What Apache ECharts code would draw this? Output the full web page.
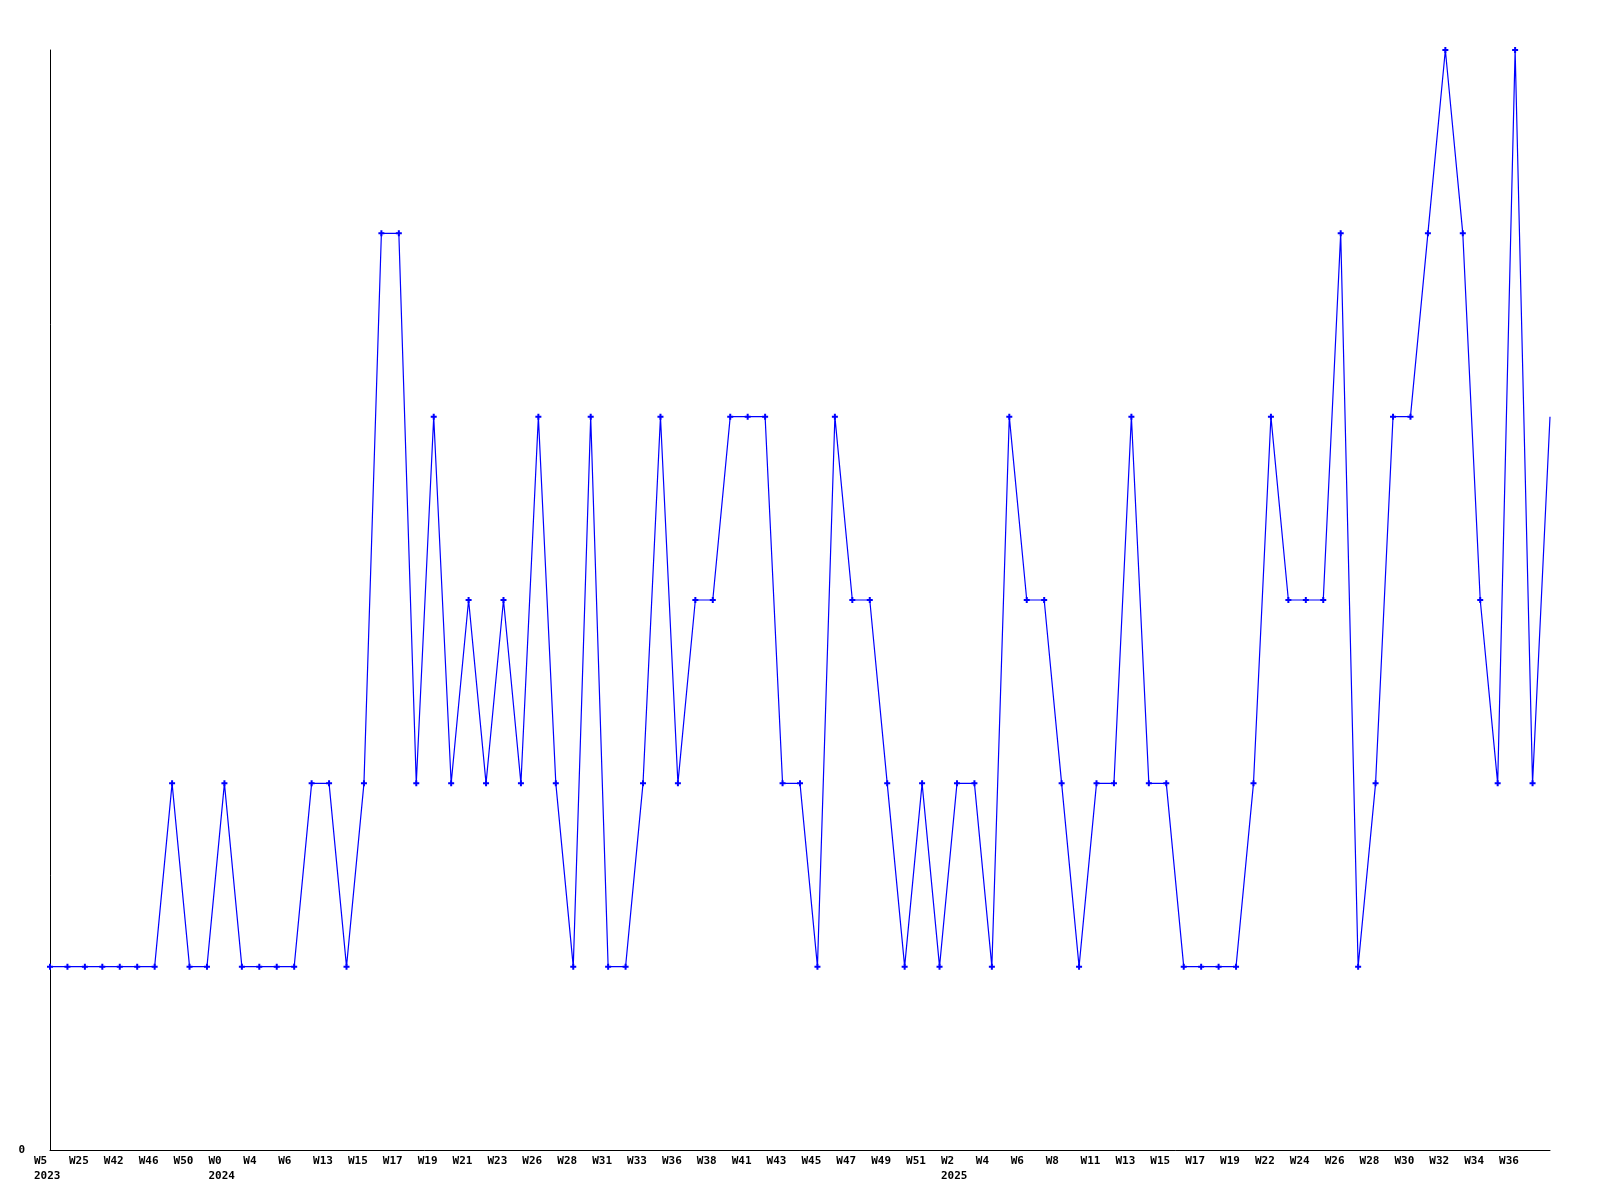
<!DOCTYPE html>
<html>
<head>
<meta charset="utf-8">
<script src="https://cdn.jsdelivr.net/npm/echarts@6/dist/echarts.min.js"></script>
<style>
  html, body { margin: 0; padding: 0; background: #fff; }
  #chart { width: 1600px; height: 1200px; }
</style>
</head>
<body>
<div id="chart"></div>
<script>
// labels sit under every second point
const weekLabels = [
  "W5", "W25", "W42", "W46", "W50", "W0", "W4", "W6", "W13", "W15",
  "W17", "W19", "W21", "W23", "W26", "W28", "W31", "W33", "W36", "W38",
  "W41", "W43", "W45", "W47", "W49", "W51", "W2", "W4", "W6", "W8",
  "W11", "W13", "W15", "W17", "W19", "W22", "W24", "W26", "W28", "W30",
  "W32", "W34", "W36"
];
// label index -> year shown on a second line
const yearLabels = { 0: "2023", 5: "2024", 26: "2025" };

const values = [
  1, 1, 1, 1, 1, 1, 1, 2, 1, 1,
  2, 1, 1, 1, 1, 2, 2, 1, 2, 5,
  5, 2, 4, 2, 3, 2, 3, 2, 4, 2,
  1, 4, 1, 1, 2, 4, 2, 3, 3, 4,
  4, 4, 2, 2, 1, 4, 3, 3, 2, 1,
  2, 1, 2, 2, 1, 4, 3, 3, 2, 1,
  2, 2, 4, 2, 2, 1, 1, 1, 1, 2,
  4, 3, 3, 3, 5, 1, 2, 4, 4, 5,
  6, 5, 3, 2, 6, 2, 4
];

const yMax = 6;

const categories = values.map((v, i) => {
  if (i % 2) return "";
  const k = i / 2;
  const w = weekLabels[k] || "";
  return yearLabels[k] ? w + "\n" + yearLabels[k] : w;
});

// last point sits on the frame edge without a marker
const seriesData = values.map((v, i) =>
  i === values.length - 1 ? { value: v, symbol: "none" } : v
);

const chart = echarts.init(document.getElementById("chart"));
const font = "'DejaVu Sans Mono', monospace";

chart.setOption({
  animation: false,
  backgroundColor: "#fff",
  grid: { left: 50, right: 50, top: 50, bottom: 50 },
  xAxis: {
    type: "category",
    boundaryGap: false,
    data: categories,
    axisLine: { lineStyle: { color: "#000", width: 1 } },
    axisTick: { show: false },
    axisLabel: {
      interval: 1,
      align: "left",
      padding: [0, 0, 0, -16],
      margin: 4,
      color: "#000",
      fontFamily: font,
      fontWeight: "bold",
      fontSize: 11,
      lineHeight: 15
    },
    splitLine: { show: false }
  },
  yAxis: {
    type: "value",
    min: 0,
    max: yMax,
    interval: yMax,
    axisLine: { show: true, lineStyle: { color: "#000", width: 1 } },
    axisTick: { show: false },
    splitLine: { show: false },
    axisLabel: {
      showMaxLabel: false,
      margin: 25,
      color: "#000",
      fontFamily: font,
      fontWeight: "bold",
      fontSize: 11
    }
  },
  series: [
    {
      type: "line",
      data: seriesData,
      symbol: "path://M2 0H4V2H6V4H4V6H2V4H0V2H2Z",
      symbolSize: 6,
      lineStyle: { color: "#0000ff", width: 1.2 },
      itemStyle: { color: "#0000ff" },
      emphasis: { disabled: true }
    }
  ]
});
</script>
</body>
</html>
